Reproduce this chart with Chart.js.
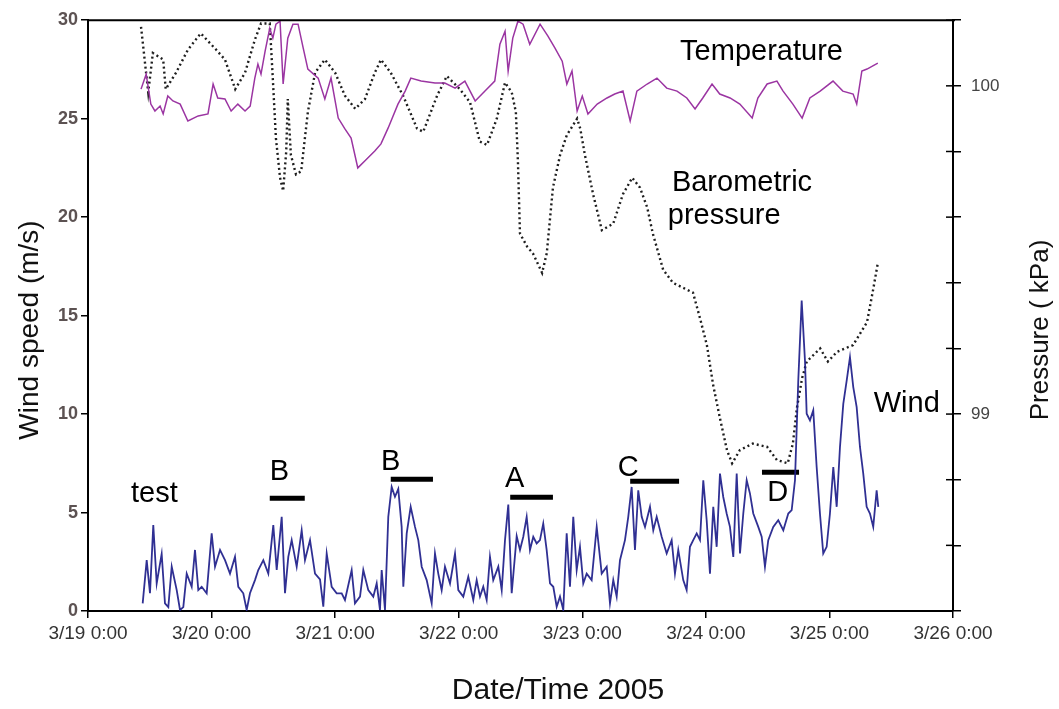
<!DOCTYPE html>
<html>
<head>
<meta charset="utf-8">
<script src="https://cdn.jsdelivr.net/npm/chart.js@4.4.1/dist/chart.umd.min.js"></script>
<style>
  html, body { margin: 0; padding: 0; background: #fff; }
  canvas { display: block; }
</style>
</head>
<body>
<canvas id="chart" width="1059" height="709"></canvas>
<script>
// x values are hours after 3/19 0:00
const dateTicks = ['3/19 0:00', '3/20 0:00', '3/21 0:00', '3/22 0:00', '3/23 0:00', '3/24 0:00', '3/25 0:00', '3/26 0:00'];

const windHours = [
  10.62, 11.40, 12.04, 12.68, 13.34, 14.31, 14.95, 15.60, 16.26, 17.23,
  17.87, 18.51, 19.17, 20.14, 20.78, 21.42, 22.08, 23.05, 24.02, 24.67,
  25.64, 26.61, 27.58, 28.55, 29.19, 30.16, 30.82, 31.46, 32.43, 33.07,
  34.05, 35.02, 35.99, 36.65, 37.62, 38.26, 38.90, 39.56, 40.53, 41.50,
  42.14, 43.12, 44.09, 45.06, 45.70, 46.36, 47.33, 48.30, 49.27, 49.91,
  51.21, 51.85, 52.83, 53.47, 54.44, 55.41, 56.07, 56.71, 57.04, 57.68,
  58.32, 58.98, 59.62, 60.26, 60.92, 61.24, 61.90, 62.67, 63.51, 64.15,
  64.81, 65.78, 66.75, 67.39, 68.03, 68.69, 69.33, 70.31, 71.28, 71.92,
  72.89, 73.86, 74.83, 75.49, 76.13, 76.77, 77.43, 78.07, 78.71, 79.69,
  80.35, 80.99, 81.63, 82.29, 83.26, 83.90, 84.54, 85.20, 85.84, 86.48,
  87.14, 87.78, 88.42, 89.08, 89.73, 90.37, 91.03, 91.67, 92.31, 92.97,
  93.61, 94.25, 94.91, 95.55, 96.19, 96.85, 97.82, 98.80, 99.77, 100.74,
  101.38, 102.02, 102.68, 103.32, 104.29, 104.93, 105.59, 106.23, 106.87, 107.54,
  108.18, 109.15, 109.79, 110.45, 111.42, 112.39, 113.36, 114.00, 114.64, 115.61,
  116.27, 116.91, 117.55, 118.22, 118.86, 119.50, 120.16, 120.80, 121.44, 122.10,
  122.74, 123.38, 124.04, 124.68, 125.33, 125.99, 126.63, 127.27, 127.93, 128.57,
  129.21, 130.18, 130.84, 131.48, 132.12, 133.09, 134.06, 135.04, 136.01, 136.67,
  137.31, 137.95, 138.61, 139.25, 139.58, 140.22, 140.86, 141.52, 142.16, 142.80,
  143.46, 144.10, 144.75, 145.41, 146.05, 146.69, 147.35, 147.99, 148.63, 149.29,
  149.93, 150.57, 151.23, 151.87, 152.51, 153.17, 153.49
];
const windSpeed = [
  0.39, 2.58, 0.90, 4.36, 1.40, 2.90, 0.39, 0.20, 2.25, 1.06,
  0.05, 0.20, 1.90, 1.23, 3.10, 1.06, 1.23, 0.90, 3.94, 2.25,
  3.10, 2.58, 1.90, 2.75, 1.23, 0.90, 0.05, 0.90, 1.57, 2.08,
  2.58, 1.90, 4.36, 2.08, 4.78, 0.90, 2.75, 3.60, 2.25, 4.10,
  2.58, 3.60, 1.90, 1.60, 0.22, 2.92, 1.23, 0.90, 0.90, 0.56,
  2.08, 0.39, 0.73, 2.08, 1.06, 0.73, 1.40, 0.05, 2.08, 0.05,
  4.78, 6.30, 5.80, 6.20, 4.27, 1.23, 3.94, 5.29, 4.27, 3.60,
  2.25, 1.57, 0.39, 2.92, 1.90, 1.06, 2.25, 1.40, 2.92, 1.06,
  0.73, 1.74, 0.56, 1.57, 0.73, 1.23, 0.56, 2.75, 1.57, 2.25,
  1.06, 3.60, 5.40, 0.90, 3.80, 3.10, 3.77, 4.78, 3.10, 3.77,
  3.43, 3.60, 4.44, 3.10, 1.40, 1.23, 0.22, 0.73, 0.05, 3.94,
  1.23, 4.78, 2.08, 3.26, 1.40, 1.90, 1.57, 4.27, 1.90, 2.25,
  0.39, 1.57, 0.73, 2.58, 3.60, 4.78, 6.30, 3.10, 6.13, 4.78,
  4.27, 5.29, 4.10, 4.78, 3.77, 2.92, 3.60, 1.90, 3.10, 1.57,
  1.06, 3.26, 3.60, 3.94, 3.60, 6.64, 4.61, 1.90, 5.29, 3.26,
  6.98, 5.79, 4.95, 4.27, 2.75, 6.98, 2.92, 4.95, 6.64, 5.96,
  4.95, 4.27, 3.77, 2.25, 3.60, 4.27, 4.61, 4.10, 4.95, 5.12,
  6.64, 11.70, 15.76, 12.72, 10.02, 9.68, 10.19, 7.31, 4.95, 2.92,
  3.26, 4.95, 7.31, 5.29, 8.33, 10.52, 11.70, 12.89, 11.37, 10.35,
  8.33, 6.98, 5.29, 4.95, 4.27, 6.13, 5.29
];

const tempHours = [
  10.3, 11.3, 12.2, 13.0, 14.0, 14.6, 15.5, 16.5, 17.9, 19.4,
  21.4, 23.3, 24.3, 25.2, 26.6, 27.8, 29.1, 30.5, 31.5, 32.4,
  33.0, 33.6, 34.4, 35.3, 35.9, 36.5, 37.3, 37.9, 38.8, 39.8,
  40.8, 41.8, 42.7, 44.7, 46.0, 47.2, 48.6, 49.9, 51.1, 52.4,
  53.8, 55.7, 56.9, 58.3, 60.2, 61.6, 62.7, 64.7, 67.4, 69.3,
  71.3, 73.2, 75.2, 77.1, 79.0, 80.0, 81.0, 81.6, 82.5, 83.5,
  84.5, 85.8, 87.8, 89.3, 90.7, 92.1, 93.0, 94.0, 95.0, 96.0,
  97.1, 98.9, 100.8, 102.3, 103.9, 105.3, 106.6, 108.6, 110.5, 112.4,
  114.4, 116.3, 117.9, 119.4, 121.2, 122.7, 124.7, 126.6, 129.0, 130.1,
  131.9, 133.8, 135.0, 136.9, 138.7, 140.2, 142.2, 144.7, 146.6, 148.6,
  149.3, 150.3, 151.3, 153.4
];
const tempValues = [
  26.50, 27.26, 25.74, 25.39, 25.64, 25.24, 26.15, 25.90, 25.74, 24.88,
  25.14, 25.24, 26.76, 26.05, 26.00, 25.39, 25.74, 25.39, 25.64, 27.06,
  27.77, 27.26, 28.43, 29.59, 29.09, 29.80, 29.95, 26.76, 29.09, 29.80,
  29.80, 28.58, 27.52, 27.06, 26.00, 27.06, 25.03, 24.48, 24.02, 22.50,
  22.86, 23.36, 23.72, 24.53, 25.74, 26.40, 27.06, 26.91, 26.81, 26.81,
  26.55, 26.91, 25.90, 26.40, 26.91, 28.78, 29.44, 27.42, 29.09, 29.95,
  29.80, 28.78, 29.80, 29.20, 28.58, 27.92, 26.76, 27.42, 25.39, 26.15,
  25.24, 25.74, 26.05, 26.25, 26.40, 24.88, 26.40, 26.76, 27.06, 26.55,
  26.40, 26.05, 25.49, 26.05, 26.76, 26.25, 26.05, 25.74, 25.03, 26.05,
  26.76, 26.91, 26.40, 25.74, 25.03, 26.05, 26.40, 26.91, 26.40, 26.25,
  25.74, 27.42, 27.52, 27.82
];

const pressHours = [
  10.3, 11.7, 12.6, 14.6, 15.1, 17.1, 19.4, 21.9, 24.9, 26.6,
  28.6, 30.5, 32.4, 33.6, 35.3, 35.9, 36.5, 37.3, 37.9, 38.5,
  38.8, 39.4, 40.4, 41.4, 42.7, 44.1, 46.0, 48.0, 49.9, 51.9,
  53.8, 55.7, 56.9, 58.8, 61.2, 63.9, 65.1, 67.8, 69.7, 72.2,
  74.2, 76.1, 77.5, 79.4, 81.0, 82.3, 83.1, 83.5, 83.9, 85.3,
  86.4, 88.2, 89.1, 90.3, 91.7, 93.0, 95.0, 95.6, 96.5, 98.1,
  99.8, 102.0, 103.9, 105.7, 107.2, 108.6, 109.7, 111.7, 113.6, 117.5,
  118.9, 120.2, 121.4, 122.7, 124.1, 125.1, 126.6, 129.1, 131.9, 133.8,
  135.9, 136.9, 137.7, 138.7, 139.6, 142.2, 143.7, 145.5, 148.6, 151.3,
  152.5, 153.4
];
const pressValues = [
  100.18, 99.98, 100.10, 100.08, 99.99, 100.04, 100.11, 100.16, 100.11, 100.08,
  99.99, 100.04, 100.14, 100.19, 100.19, 100.02, 99.84, 99.72, 99.68, 99.80,
  99.96, 99.79, 99.73, 99.74, 99.92, 100.04, 100.08, 100.04, 99.97, 99.93,
  99.96, 100.04, 100.08, 100.04, 99.97, 99.87, 99.86, 99.97, 100.03, 99.99,
  99.95, 99.83, 99.82, 99.90, 100.01, 99.98, 99.92, 99.77, 99.55, 99.51,
  99.49, 99.43, 99.49, 99.69, 99.79, 99.85, 99.90, 99.87, 99.79, 99.67,
  99.56, 99.58, 99.67, 99.72, 99.69, 99.63, 99.55, 99.44, 99.40, 99.37,
  99.29, 99.21, 99.09, 98.99, 98.89, 98.85, 98.89, 98.91, 98.90, 98.86,
  98.85, 98.91, 99.02, 99.11, 99.16, 99.20, 99.16, 99.19, 99.21, 99.28,
  99.38, 99.46
];

// event bars (hours from / to, wind speed level)
const eventStart = [35.3, 58.8, 82.0, 105.3, 130.9];
const eventEnd = [42.1, 67.0, 90.3, 114.8, 138.1];
const eventLevel = [5.73, 6.69, 5.78, 6.59, 7.04];

const FONT = "'Liberation Sans', Arial, Helvetica, sans-serif";
Chart.defaults.font.family = FONT;

// text labels placed in data coordinates: [text, hour, wind value at baseline]
const notes = [
  ['Temperature', 115.0, 27.97],
  ['Barometric', 113.4, 21.33],
  ['pressure', 112.6, 19.66],
  ['Wind', 152.6, 10.08],
  ['test', 8.35, 5.52],
  ['B', 35.3, 6.64],
  ['B', 56.9, 7.15],
  ['A', 81.0, 6.28],
  ['C', 102.9, 6.84],
  ['D', 131.9, 5.57]
];

const toPoints = (xs, ys) => xs.map((x, i) => ({ x, y: ys[i] }));

const lineBase = { pointRadius: 0, tension: 0, fill: false };

const datasets = [
  { ...lineBase, label: 'Wind', data: toPoints(windHours, windSpeed), yAxisID: 'y',
    borderColor: 'rgba(30,30,138,0.92)', borderWidth: 1.8 },
  { ...lineBase, label: 'Temperature', data: toPoints(tempHours, tempValues), yAxisID: 'y',
    borderColor: '#9b35a2', borderWidth: 1.5 },
  { ...lineBase, label: 'Barometric pressure', data: toPoints(pressHours, pressValues), yAxisID: 'y2',
    borderColor: '#1e1e1e', borderWidth: 2.4, borderDash: [2, 3] }
];
eventStart.forEach((s, i) => {
  datasets.push({ ...lineBase, label: 'event' + i, yAxisID: 'y',
    data: [{ x: s, y: eventLevel[i] }, { x: eventEnd[i], y: eventLevel[i] }],
    borderColor: '#000', borderWidth: 5, borderCapStyle: 'butt' });
});

const decor = {
  id: 'decor',
  afterDraw(chart) {
    const { ctx, chartArea: a, scales } = chart;
    ctx.save();
    // top frame line
    ctx.strokeStyle = '#000';
    ctx.lineWidth = 2;
    ctx.beginPath();
    ctx.moveTo(a.left, a.top);
    ctx.lineTo(a.right + 2, a.top);
    ctx.stroke();
    // inner half of the right axis ticks
    ctx.lineWidth = 1.5;
    scales.y2.ticks.forEach(t => {
      const py = scales.y2.getPixelForValue(t.value);
      ctx.beginPath();
      ctx.moveTo(a.right - 7, py);
      ctx.lineTo(a.right, py);
      ctx.stroke();
    });
    // notes
    ctx.fillStyle = '#000';
    ctx.font = '29px ' + FONT;
    ctx.textAlign = 'left';
    ctx.textBaseline = 'alphabetic';
    notes.forEach(([txt, h, v]) => {
      ctx.fillText(txt, scales.x.getPixelForValue(h), scales.y.getPixelForValue(v));
    });
    // axis titles
    ctx.fillStyle = '#111';
    ctx.textAlign = 'center';
    ctx.font = '30px ' + FONT;
    ctx.fillText('Date/Time 2005', 558, 699);
    ctx.textBaseline = 'middle';
    ctx.font = '28px ' + FONT;
    ctx.save();
    ctx.translate(30, 330);
    ctx.rotate(-Math.PI / 2);
    ctx.fillText('Wind speed (m/s)', 0, 0);
    ctx.restore();
    ctx.font = '26px ' + FONT;
    ctx.save();
    ctx.translate(1041, 330);
    ctx.rotate(-Math.PI / 2);
    ctx.fillText('Pressure ( kPa)', 0, 0);
    ctx.restore();
    ctx.restore();
  }
};

const axisGrid = { drawOnChartArea: false, drawTicks: true, tickLength: 7, color: '#000', lineWidth: 1.5 };
const axisBorder = { display: true, color: '#000', width: 2 };

new Chart(document.getElementById('chart'), {
  type: 'line',
  data: { datasets },
  options: {
    responsive: false,
    animation: false,
    layout: { padding: { top: 19, left: 0, right: 0, bottom: 0 }, autoPadding: false },
    plugins: { legend: { display: false }, tooltip: { enabled: false } },
    scales: {
      x: {
        type: 'linear', min: 0, max: 168,
        ticks: { stepSize: 24, autoSkip: false, maxRotation: 0,
          callback: v => dateTicks[Math.round(v / 24)],
          font: { size: 19 }, color: '#333', padding: 4 },
        grid: axisGrid, border: axisBorder,
        afterFit: s => { s.height = 98; }
      },
      y: {
        position: 'left', min: 0, max: 30,
        ticks: { stepSize: 5, font: { size: 18, weight: 'bold' }, color: '#5c5252', padding: 3 },
        grid: axisGrid, border: axisBorder,
        afterFit: s => { s.width = 88; }
      },
      y2: {
        position: 'right', min: 98.4, max: 100.2,
        ticks: { stepSize: 0.2, autoSkip: false,
          callback: v => Math.abs(v - 100) < 1e-6 ? '100' : (Math.abs(v - 99) < 1e-6 ? '99' : ''),
          font: { size: 17 }, color: '#444', padding: 10 },
        grid: { ...axisGrid, tickLength: 8 }, border: axisBorder,
        afterFit: s => { s.width = 106; }
      }
    }
  },
  plugins: [decor]
});
</script>
</body>
</html>
